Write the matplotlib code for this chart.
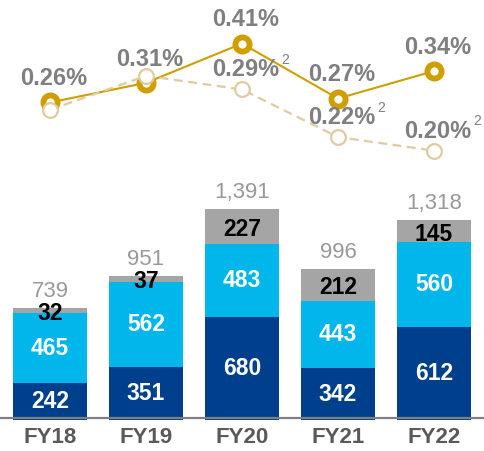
import numpy as np
import matplotlib
matplotlib.use("Agg")
import matplotlib.pyplot as plt

# ── datos ───────────────────────────────────────
years = ['FY18', 'FY19', 'FY20', 'FY21', 'FY22']
seg_bottom = [242, 351, 680, 342, 612]
seg_middle = [465, 562, 483, 443, 560]
seg_top = [32, 37, 227, 212, 145]
totals = [739, 951, 1391, 996, 1318]

pct_main = [0.26, 0.31, 0.41, 0.27, 0.34]
pct_adj = [0.26, 0.31, 0.29, 0.22, 0.20]
pct_adj_labeled = [False, False, True, True, True]   # con nota "2"

# ── estilo ──────────────────────────────────────
plt.rcParams['font.family'] = ['Liberation Sans', 'DejaVu Sans']

C_DARK = '#003F8C'
C_LIGHT = '#00B6EB'
C_GRAY = '#A5A5A5'
C_GOLD = '#CF9F00'
C_TAN = '#E0CAA0'
C_PCT = '#7F7F7F'
C_TOT = '#999999'
C_TICK = '#595959'

W, H = 485, 451
fig = plt.figure(figsize=(W / 100, H / 100), dpi=100)
base_px = 420
ax = fig.add_axes([0, (H - base_px) / H, 1, base_px / H])

x = np.arange(len(years))
bw = 0.77

b1 = np.array(seg_bottom)
b2 = np.array(seg_middle)
b3 = np.array(seg_top)

ax.bar(x, b1, bw, color=C_DARK, zorder=2)
ax.bar(x, b2, bw, bottom=b1, color=C_LIGHT, zorder=2)
ax.bar(x, b3, bw, bottom=b1 + b2, color=C_GRAY, zorder=2)
ax.axhline(12, color='#808080', lw=1.6, zorder=3)

lbl = dict(ha='center', va='center', fontsize=16.5, fontweight='bold')
for i in range(len(years)):
    ax.text(x[i], b1[i] / 2, f'{b1[i]}', color='white', **lbl, zorder=4)
    ax.text(x[i], b1[i] + b2[i] / 2, f'{b2[i]}', color='white', **lbl, zorder=4)
    ax.annotate(f'{b3[i]}', (x[i], b1[i] + b2[i] + b3[i] / 2),
                xytext=(0, -2), textcoords='offset points',
                color='black', **lbl, zorder=4)
    ax.annotate(f'{totals[i]:,}', (x[i], b1[i] + b2[i] + b3[i]),
                xytext=(0, 12), textcoords='offset points',
                ha='center', va='center', fontsize=16, color=C_TOT)

ax.set_xlim(-50 / 96, (W - 50) / 96)
ax.set_ylim(0, base_px / 0.1515)
ax.set_xticks(x)
ax.set_xticklabels(years, fontsize=16, fontweight='bold', color=C_TICK)
ax.tick_params(axis='x', length=0, pad=5)
ax.set_yticks([])
for s in ax.spines.values():
    s.set_visible(False)
ax.patch.set_alpha(0)

# ── líneas de porcentaje (dos escalas) ──────────
ax_m = ax.twinx()
ax_m.set_ylim(-0.549, 0.521)
ax_a = ax.twinx()
ax_a.set_ylim(-0.196, 0.4215)
for a in (ax_m, ax_a):
    a.set_yticks([])
    for s in a.spines.values():
        s.set_visible(False)
ax_a.set_zorder(ax_m.get_zorder() + 1)

ax_a.plot(x, pct_adj, color=C_TAN, lw=1.6, ls=(0, (4, 2.5)), zorder=1)
ax_m.plot(x, pct_main, color=C_GOLD, lw=1.5, zorder=2)
ax_m.plot(x, pct_main, ls='none', marker='o', ms=10.2, mew=4.2,
          mfc='white', mec=C_GOLD, zorder=3)
ax_a.plot(x, pct_adj, ls='none', marker='o', ms=10.6, mew=1.6,
          mfc='white', mec=C_TAN, zorder=4)

pct = dict(ha='center', va='center', fontsize=17, fontweight='bold', color=C_PCT)
for i in range(len(years)):
    ax_a.annotate(f'{pct_main[i]:.2f}%', (x[i], pct_main[i]),
                  xycoords=ax_m.transData,
                  xytext=(2.5, 17), textcoords='offset points', **pct, zorder=5)
    if pct_adj_labeled[i]:
        ax_a.annotate(f'{pct_adj[i]:.2f}%', (x[i], pct_adj[i]),
                      xytext=(3, 14), textcoords='offset points', **pct, zorder=5)
        ax_a.annotate('2', (x[i], pct_adj[i]),
                      xytext=(31, 21), textcoords='offset points',
                      ha='center', va='center', fontsize=10, color=C_PCT, zorder=5)

fig.savefig('out.png', dpi=100)
